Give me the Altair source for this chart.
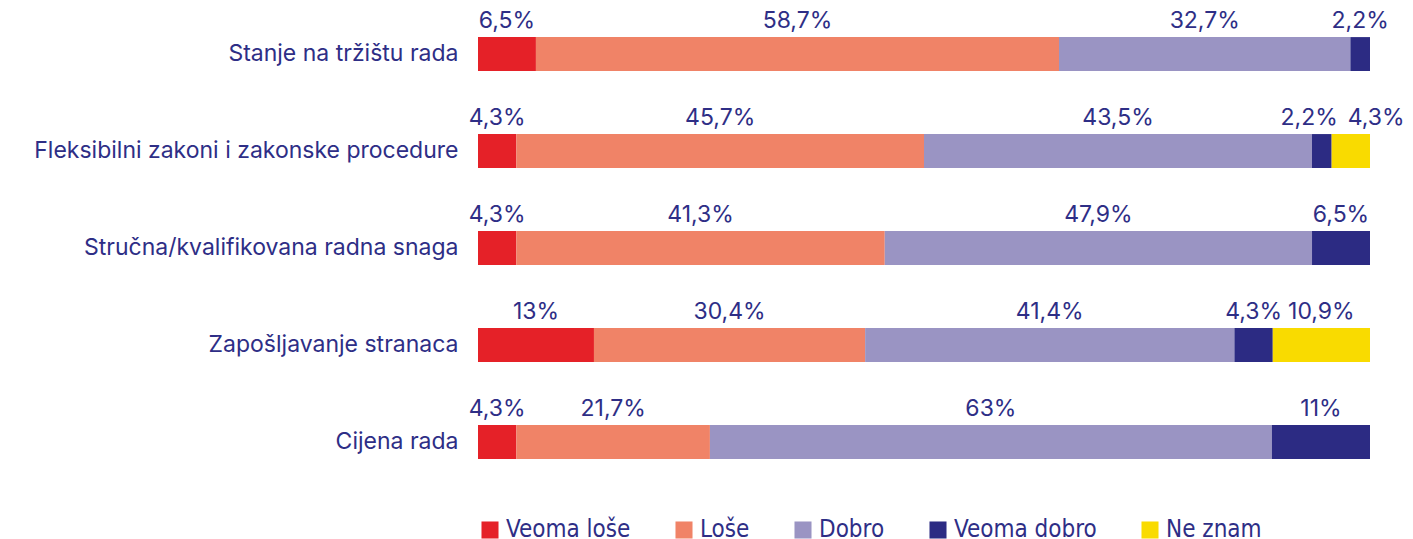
import altair as alt
import pandas as pd

categories = [
    "Stanje na tržištu rada",
    "Fleksibilni zakoni i zakonske procedure",
    "Stručna/kvalifikovana radna snaga",
    "Zapošljavanje stranaca",
    "Cijena rada",
]
series = ["Veoma loše", "Loše", "Dobro", "Veoma dobro", "Ne znam"]
colors = ["#E52128", "#F08367", "#9A94C3", "#2C2B83", "#F9DB00"]

veoma_lose = [6.5, 4.3, 4.3, 13, 4.3]
lose = [58.7, 45.7, 41.3, 30.4, 21.7]
dobro = [32.7, 43.5, 47.9, 41.4, 63]
veoma_dobro = [2.2, 2.2, 6.5, 4.3, 11]
ne_znam = [0, 4.3, 0, 10.9, 0]
label_text = [
    ["6,5%", "58,7%", "32,7%", "2,2%", ""],
    ["4,3%", "45,7%", "43,5%", "2,2%", "4,3%"],
    ["4,3%", "41,3%", "47,9%", "6,5%", ""],
    ["13%", "30,4%", "41,4%", "4,3%", "10,9%"],
    ["4,3%", "21,7%", "63%", "11%", ""],
]

values = [veoma_lose, lose, dobro, veoma_dobro, ne_znam]
MIN_GAP = 0.075
rows = []
for ci, cat in enumerate(categories):
    row_vals = [values[si][ci] for si in range(len(series))]
    total = sum(row_vals)
    acc = 0.0
    row_items = []
    for si, s in enumerate(series):
        v = row_vals[si]
        if v <= 0:
            continue
        start = acc / total
        end = (acc + v) / total
        acc += v
        row_items.append({
            "cat": cat, "series": s, "order": si, "value": v,
            "start": start, "end": end, "mid": (start + end) / 2,
            "label": label_text[ci][si],
        })
    # push crowded labels apart
    for k in range(len(row_items) - 1):
        gap = row_items[k + 1]["mid"] - row_items[k]["mid"]
        if gap < MIN_GAP:
            deficit = MIN_GAP - gap
            row_items[k]["mid"] -= deficit / 3
            row_items[k + 1]["mid"] += deficit * 2 / 3
    rows.extend(row_items)
df = pd.DataFrame(rows)

TXT = "#2E2E86"
FONT = "Inter"

y_enc = alt.Y("cat:N", sort=categories, title=None,
              scale=alt.Scale(paddingInner=0.65, paddingOuter=0.3),
              axis=alt.Axis(ticks=False, domain=False, labelFontSize=23,
                            labelColor=TXT, labelFont=FONT, labelPadding=20,
                            labelLimit=600))

bars = alt.Chart(df).mark_bar().encode(
    y=y_enc,
    x=alt.X("start:Q", scale=alt.Scale(domain=[0, 1], nice=False), axis=None),
    x2="end:Q",
    color=alt.Color("series:N", sort=series,
                    scale=alt.Scale(domain=series, range=colors),
                    legend=alt.Legend(title=None, orient="bottom",
                                      direction="horizontal",
                                      symbolType="square", symbolSize=290,
                                      symbolStrokeWidth=0,
                                      labelFont="DejaVu Sans Condensed, Liberation Sans Narrow, sans-serif",
                                      labelFontSize=24, labelColor=TXT,
                                      columnPadding=41, offset=30,
                                      symbolOffset=0, labelOffset=4)),
)

texts = alt.Chart(df).mark_text(
    fontSize=23, font=FONT, color=TXT, baseline="alphabetic", dy=-26
).encode(
    y=alt.Y("cat:N", sort=categories),
    x=alt.X("mid:Q"),
    text="label:N",
)

chart = (bars + texts).properties(
    width=892, height=480,
    padding={"left": 25, "top": 0, "right": 0, "bottom": 0},
).configure_view(stroke=None)

chart.save("out.html", embed_options={"renderer": "svg", "actions": False})
